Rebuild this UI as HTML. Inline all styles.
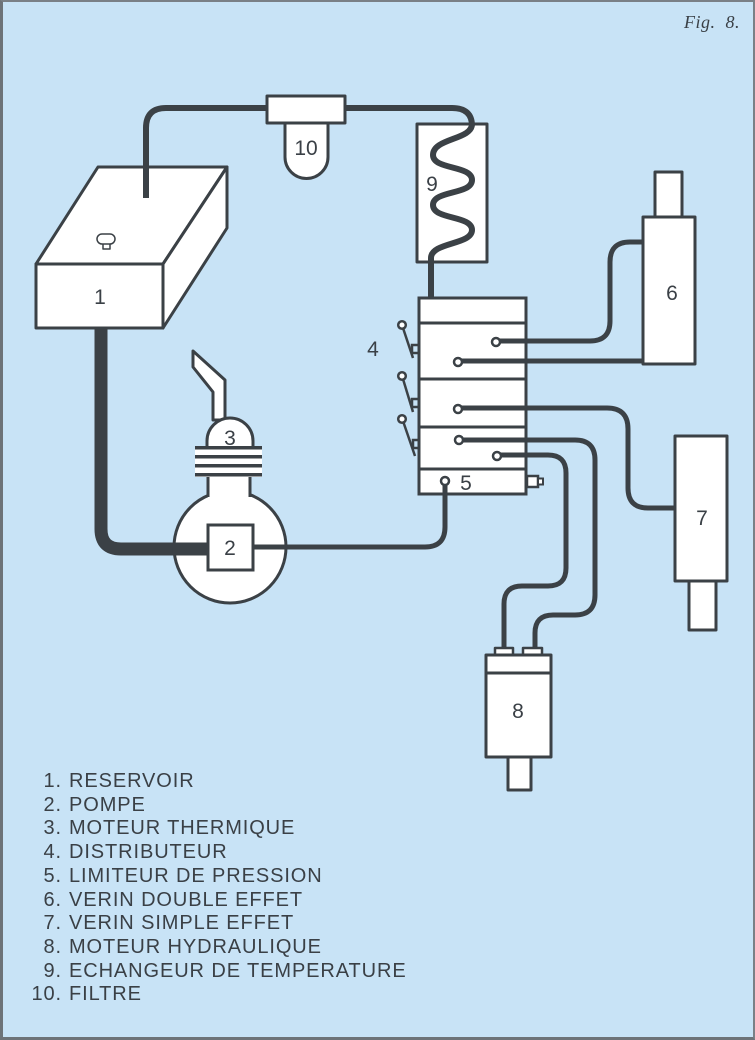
<!DOCTYPE html>
<html>
<head>
<meta charset="utf-8">
<style>
  html, body { margin:0; padding:0; }
  body { width:755px; height:1040px; overflow:hidden; background:#c8e3f6; }
  .frame { position:absolute; left:0; top:0; width:755px; height:1040px; box-sizing:border-box;
    border-left:3px solid #6d7378; border-top:2px solid #7a8086; border-right:2px solid #7a8086; border-bottom:3px solid #6d7378; }
  svg { position:absolute; left:0; top:0; }
  .legend { position:absolute; left:0; top:770px; font-family:"Liberation Sans", Arial, sans-serif;
    font-size:20px; color:#3a4046; letter-spacing:0.9px; line-height:23.7px; }
  .legend div { white-space:nowrap; }
  .legend .n { display:inline-block; width:62px; text-align:right; }
  .legend .t { display:inline-block; padding-left:7px; }
  .fig { position:absolute; left:684px; top:12px; font-family:"Liberation Serif", serif; font-style:italic;
    font-size:18px; color:#3a4046; letter-spacing:0.5px; }
</style>
</head>
<body>
<div class="frame"></div>
<svg width="755" height="1040" viewBox="0 0 755 1040" xmlns="http://www.w3.org/2000/svg">
  <g fill="none" stroke="#3b4146" stroke-linecap="round" stroke-linejoin="round">
    <path d="M146,200 L146,128 Q146,108 166,108 L452,108 Q472,108 472,126" stroke-width="6"/>
    <path d="M472,124 C472,140 433,138 433,155 C433,170 472,165 472,180 C472,195 433,190 433,205 C433,220 472,215 472,230 C472,245 431,242 431,258 L431,298" stroke-width="6"/>
    <path d="M101,326 L101,529 Q101,549 121,549 L210,549" stroke-width="13" stroke-linecap="butt"/>
    <path d="M252,547 L425,547 Q445,547 445,527 L445,482" stroke-width="5"/>
    <path d="M496,341 L590,341 Q610,341 610,321 L610,262 Q610,242 630,242 L645,242" stroke-width="5"/>
    <path d="M458,361 L645,361" stroke-width="5"/>
    <path d="M458,408 L607,408 Q628,408 628,429 L628,488 Q628,508 648,508 L677,508" stroke-width="5"/>
    <path d="M460,440 L575,440 Q595,440 595,460 L595,595 Q595,615 575,615 L553,615 Q535,615 535,633 L535,650" stroke-width="5"/>
    <path d="M497,455 L548,455 Q566,455 566,473 L566,568 Q566,586 548,586 L522,586 Q504,586 504,604 L504,650" stroke-width="5"/>
  </g>

  <g stroke="#3b4146" stroke-width="3" fill="#ffffff" stroke-linejoin="round">
    <polygon points="36,264 98,167 227,167 163,264"/>
    <polygon points="163,264 227,167 227,228 163,328"/>
    <rect x="36" y="264" width="127" height="64"/>
    <rect x="103" y="243" width="7" height="6" stroke-width="1.5"/>
    <rect x="97" y="234" width="18" height="10" rx="5" stroke-width="1.5"/>
  </g>
  <path d="M146,166 L146,198" stroke="#3b4146" stroke-width="6" fill="none"/>

  <g stroke="#3b4146" stroke-width="3" fill="#ffffff" stroke-linejoin="round">
    <path d="M285,123 L285,157 A21.5,21.5 0 0 0 328,157 L328,123 Z"/>
    <rect x="267" y="96" width="78" height="27"/>
    <rect x="417" y="124" width="70" height="138" fill="#ffffff"/>
  </g>
  <path d="M472,124 C472,140 433,138 433,155 C433,170 472,165 472,180 C472,195 433,190 433,205 C433,220 472,215 472,230 C472,245 431,242 431,258 L431,262" fill="none" stroke="#3b4146" stroke-width="6" stroke-linecap="round"/>

  <g stroke="#3b4146" stroke-width="3" fill="#ffffff" stroke-linejoin="round">
    <rect x="655" y="172" width="27" height="45"/>
    <rect x="643" y="217" width="52" height="147"/>
    <rect x="689" y="581" width="27" height="49"/>
    <rect x="675" y="436" width="52" height="145"/>
    <rect x="508" y="757" width="23" height="33"/>
    <rect x="495" y="648" width="18" height="7" stroke-width="2.5"/>
    <rect x="523" y="648" width="19" height="7" stroke-width="2.5"/>
    <rect x="486" y="655" width="65" height="102"/>
    <line x1="486" y1="673" x2="551" y2="673"/>
  </g>

  <g stroke="#3b4146" stroke-width="3" fill="#ffffff" stroke-linejoin="round">
    <polygon points="193,351 225,380 225,420 213,420 213,392 193,367"/>
    <path d="M207,448 L207,441 A23,23 0 0 1 253,441 L253,448 Z"/>
    <circle cx="230" cy="547" r="56"/>
    <rect x="208" y="470" width="42" height="34" stroke="none"/>
    <line x1="208" y1="476" x2="208" y2="497"/>
    <line x1="250" y1="476" x2="250" y2="497"/>
    <rect x="195" y="447" width="67" height="30" stroke="none"/>
  </g>
  <g fill="#3b4146">
    <rect x="195" y="446" width="67" height="3.5"/>
    <rect x="195" y="455" width="67" height="3.5"/>
    <rect x="195" y="464" width="67" height="3.5"/>
    <rect x="195" y="473" width="67" height="3.5"/>
  </g>
  <path d="M174,549 L210,549" stroke="#3b4146" stroke-width="13" fill="none"/>
  <path d="M250,547 L287,547" stroke="#3b4146" stroke-width="5" fill="none"/>
  <rect x="208" y="525" width="45" height="45" fill="#ffffff" stroke="#3b4146" stroke-width="3"/>

  <g stroke="#3b4146" stroke-width="3" fill="#ffffff">
    <rect x="419" y="298" width="107" height="196"/>
    <line x1="419" y1="323" x2="526" y2="323"/>
    <line x1="419" y1="379" x2="526" y2="379"/>
    <line x1="419" y1="427" x2="526" y2="427"/>
    <line x1="419" y1="469" x2="526" y2="469"/>
    <rect x="527" y="476" width="11" height="11" stroke-width="2.5"/>
    <rect x="538" y="478.5" width="5" height="6" stroke-width="2"/>
  </g>
  <g stroke="#3b4146" stroke-width="5" fill="none">
    <line x1="496" y1="341" x2="526" y2="341"/>
    <line x1="458" y1="361" x2="526" y2="361"/>
    <line x1="458" y1="408" x2="526" y2="408"/>
    <line x1="460" y1="440" x2="526" y2="440"/>
    <line x1="497" y1="455" x2="526" y2="455"/>
    <line x1="445" y1="482" x2="445" y2="496"/>
  </g>
  <g stroke="#3b4146" stroke-width="2.5" fill="#ffffff">
    <circle cx="496" cy="342" r="4"/>
    <circle cx="458" cy="362" r="4"/>
    <circle cx="458" cy="409" r="4"/>
    <circle cx="459" cy="440" r="4"/>
    <circle cx="497" cy="456" r="4"/>
    <circle cx="445" cy="481" r="4"/>
  </g>
  <g stroke="#3b4146" stroke-width="2.5" fill="none">
    <line x1="403" y1="328" x2="413" y2="358"/>
    <rect x="412" y="345" width="7" height="8"/>
    <line x1="403" y1="379" x2="413" y2="412"/>
    <rect x="412" y="399" width="7" height="8"/>
    <line x1="403" y1="421" x2="415" y2="456"/>
    <rect x="413" y="440" width="6" height="8"/>
  </g>
  <g stroke="#3b4146" stroke-width="2.5" fill="#ffffff">
    <circle cx="402" cy="325" r="3.8"/>
    <circle cx="402" cy="376" r="3.8"/>
    <circle cx="402" cy="419" r="3.8"/>
  </g>

  <g font-family="Liberation Sans, Arial, sans-serif" font-size="21" fill="#3a4046" text-anchor="middle">
    <text x="100" y="304">1</text>
    <text x="230" y="555">2</text>
    <text x="230" y="445">3</text>
    <text x="373" y="356">4</text>
    <text x="466" y="490">5</text>
    <text x="672" y="300">6</text>
    <text x="702" y="525">7</text>
    <text x="518" y="718">8</text>
    <text x="432" y="191">9</text>
    <text x="306" y="155">10</text>
  </g>
</svg>

<div class="fig">Fig.&nbsp; 8.</div>

<div class="legend">
  <div><span class="n">1.</span><span class="t">RESERVOIR</span></div>
  <div><span class="n">2.</span><span class="t">POMPE</span></div>
  <div><span class="n">3.</span><span class="t">MOTEUR THERMIQUE</span></div>
  <div><span class="n">4.</span><span class="t">DISTRIBUTEUR</span></div>
  <div><span class="n">5.</span><span class="t">LIMITEUR DE PRESSION</span></div>
  <div><span class="n">6.</span><span class="t">VERIN DOUBLE EFFET</span></div>
  <div><span class="n">7.</span><span class="t">VERIN SIMPLE EFFET</span></div>
  <div><span class="n">8.</span><span class="t">MOTEUR HYDRAULIQUE</span></div>
  <div><span class="n">9.</span><span class="t">ECHANGEUR DE TEMPERATURE</span></div>
  <div><span class="n">10.</span><span class="t">FILTRE</span></div>
</div>
</body>
</html>
